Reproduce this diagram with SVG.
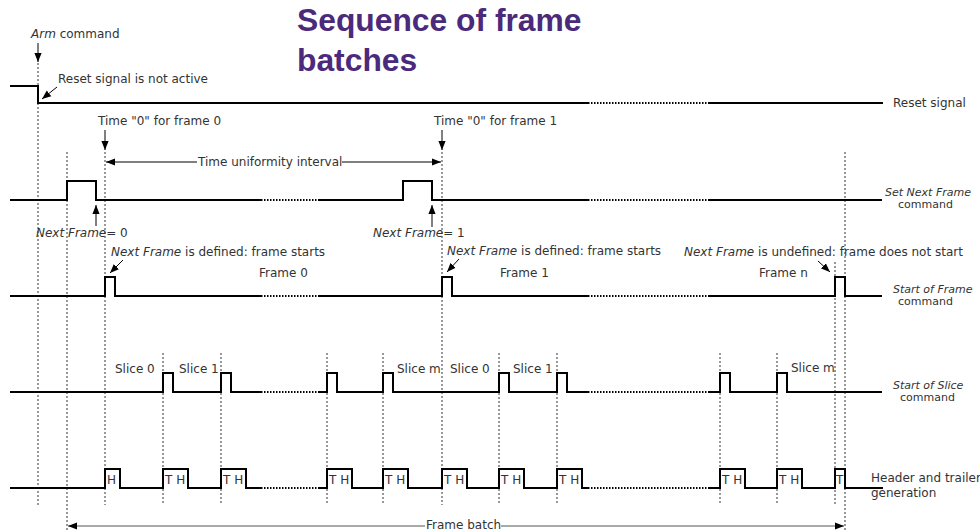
<svg xmlns="http://www.w3.org/2000/svg" width="980" height="532" viewBox="0 0 980 532">
<defs>
<style>
.t{font-family:"DejaVu Sans",sans-serif;font-size:12px;fill:#333}
.c{font-family:"DejaVu Sans",sans-serif;font-size:11px;fill:#333}
.i{font-style:italic}
.sig{fill:none;stroke:#000;stroke-width:2}
.dot{fill:none;stroke:#000;stroke-width:2;stroke-dasharray:1.5 1.5}
.vl{fill:none;stroke:#333;stroke-width:1;stroke-dasharray:2 2}
.ar{fill:none;stroke:#000;stroke-width:1}
.title{font-family:"Liberation Sans",Arial,sans-serif;font-weight:bold;font-size:31.8px;fill:#4B2A7B}
</style>
<marker id="ah" viewBox="0 0 10 10" refX="10" refY="5" markerWidth="9" markerHeight="9" markerUnits="userSpaceOnUse" orient="auto">
<path d="M0,1 L10,5 L0,9 Z" fill="#000"/>
</marker>
</defs>
<rect width="980" height="532" fill="#fff"/>

<g id="title">
<text class="title" x="297" y="31">Sequence of frame</text>
<text class="title" x="297" y="71">batches</text>
</g>

<g id="guides">
<path class="vl" d="M38,63 V505 M67,152 V530 M105,152 V505 M163,353 V505 M221,353 V505 M327,353 V505 M383,353 V505 M442,152 V505 M499,353 V505 M557,353 V505 M720,353 V505 M777,353 V505 M835,262 V505 M845,152 V530"/>
</g>

<g id="reset-signal">
<path class="sig" d="M10,86 H38 V103 H588 M708,103 H883"/>
<path class="dot" d="M588,103 H708"/>
<text class="t" x="893" y="107">Reset signal</text>
</g>

<g id="set-next-frame">
<path class="sig" d="M10,200 H67 V181 H96 V200 H261 M318,200 H403 V181 H432 V200 H588 M708,200 H882"/>
<path class="dot" d="M261,200 H318 M588,200 H708"/>
<text class="c i" x="885" y="196">Set Next Frame</text>
<text class="c" x="898" y="208">command</text>
</g>

<g id="start-of-frame">
<path class="sig" d="M10,296 H105 V277 H115 V296 H261 M318,296 H442 V277 H452 V296 H588 M708,296 H835 V277 H845 V296 H882"/>
<path class="dot" d="M261,296 H318 M588,296 H708"/>
<text class="c i" x="893" y="293">Start of Frame</text>
<text class="c" x="898" y="305">command</text>
</g>

<g id="start-of-slice">
<path class="sig" d="M10,392 H163 V373 H173 V392 H221 V373 H231 V392 H261 M318,392 H327 V373 H337 V392 H383 V373 H393 V392 H499 V373 H509 V392 H557 V373 H567 V392 H588 M708,392 H720 V373 H730 V392 H777 V373 H787 V392 H882"/>
<path class="dot" d="M261,392 H318 M588,392 H708"/>
<text class="c i" x="893" y="389">Start of Slice</text>
<text class="c" x="900" y="401">command</text>
<text class="t" x="115" y="373">Slice 0</text>
<text class="t" x="179" y="373">Slice 1</text>
<text class="t" x="397" y="373">Slice m</text>
<text class="t" x="450" y="373">Slice 0</text>
<text class="t" x="513" y="373">Slice 1</text>
<text class="t" x="791" y="372">Slice m</text>
</g>

<g id="header-trailer">
<path class="sig" d="M10,488 H105 V469 H120 V488 H163 V469 H188 V488 H221 V469 H246 V488 H261 M318,488 H327 V469 H352 V488 H383 V469 H408 V488 H442 V469 H467 V488 H499 V469 H524 V488 H557 V469 H582 V488 H588 M708,488 H720 V469 H745 V488 H777 V469 H802 V488 H835 V469 H845 V488 H883"/>
<path class="dot" d="M261,488 H318 M588,488 H708"/>
<text class="t" x="107" y="484">H</text>
<text class="t" x="165" y="484">T H</text>
<text class="t" x="223" y="484">T H</text>
<text class="t" x="329" y="484">T H</text>
<text class="t" x="385" y="484">T H</text>
<text class="t" x="444" y="484">T H</text>
<text class="t" x="501" y="484">T H</text>
<text class="t" x="559" y="484">T H</text>
<text class="t" x="722" y="484">T H</text>
<text class="t" x="779" y="484">T H</text>
<text class="t" x="836" y="484">T</text>
<text class="t" x="871" y="482">Header and trailer</text>
<text class="t" x="871" y="497">generation</text>
</g>

<g id="annotations">
<text class="t" x="31" y="38"><tspan class="i">Arm</tspan> command</text>
<text class="t" x="58" y="83">Reset signal is not active</text>
<text class="t" x="98" y="125">Time "0" for frame 0</text>
<text class="t" x="434" y="125">Time "0" for frame 1</text>
<text class="t" x="198" y="166">Time uniformity interval</text>
<text class="t" x="36" y="237"><tspan class="i">Next Frame</tspan>= 0</text>
<text class="t" x="373" y="237"><tspan class="i">Next Frame</tspan>= 1</text>
<text class="t" x="111" y="256"><tspan class="i">Next Frame</tspan> is defined: frame starts</text>
<text class="t" x="447" y="255"><tspan class="i">Next Frame</tspan> is defined: frame starts</text>
<text class="t" x="684" y="256"><tspan class="i">Next Frame</tspan> is undefined: frame does not start</text>
<text class="t" x="259" y="277">Frame 0</text>
<text class="t" x="500" y="277">Frame 1</text>
<text class="t" x="759" y="277">Frame n</text>
<text class="t" x="426" y="529">Frame batch</text>
</g>

<g id="connectors">
<path class="ar" marker-end="url(#ah)" d="M38,43 V62"/>
<path class="ar" marker-end="url(#ah)" d="M57,87 L42,99"/>
<path class="ar" marker-end="url(#ah)" d="M105,130 V150"/>
<path class="ar" marker-end="url(#ah)" d="M442,130 V150"/>
<path class="ar" marker-end="url(#ah)" d="M197,162 H106"/>
<path class="ar" marker-end="url(#ah)" d="M342,162 H441"/>
<path class="ar" marker-end="url(#ah)" d="M96,226 V205"/>
<path class="ar" marker-end="url(#ah)" d="M432,227 V205"/>
<path class="ar" marker-end="url(#ah)" d="M123,260 L110,273"/>
<path class="ar" marker-end="url(#ah)" d="M459,259 L447,272"/>
<path class="ar" marker-end="url(#ah)" d="M818,261 L830,272"/>
<path class="ar" style="stroke:#555" marker-end="url(#ah)" d="M425,526 H68"/>
<path class="ar" style="stroke:#555" marker-end="url(#ah)" d="M501,526 H844"/>
</g>
</svg>
